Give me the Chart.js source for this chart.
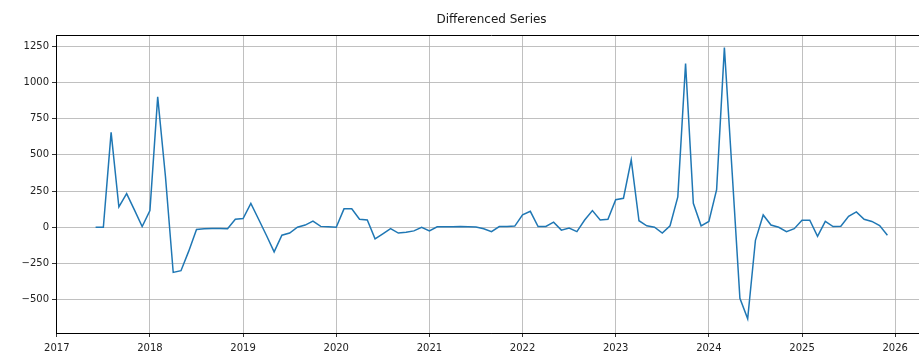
<!DOCTYPE html>
<html>
<head>
<meta charset="utf-8">
<script src="https://cdn.jsdelivr.net/npm/chart.js@4/dist/chart.umd.min.js"></script>
<style>
  html, body { margin: 0; padding: 0; background: #ffffff; overflow: hidden; }
  #wrap { position: relative; width: 935px; height: 358px; }
</style>
</head>
<body>
<div id="wrap"><canvas id="chart" width="935" height="358"></canvas></div>
<script>
// Month-over-month differences of the series
const monthLabels = [
  '2017-06','2017-07','2017-08','2017-09','2017-10','2017-11','2017-12',
  '2018-01','2018-02','2018-03','2018-04','2018-05','2018-06','2018-07','2018-08','2018-09','2018-10','2018-11','2018-12',
  '2019-01','2019-02','2019-03','2019-04','2019-05','2019-06','2019-07','2019-08','2019-09','2019-10','2019-11','2019-12',
  '2020-01','2020-02','2020-03','2020-04','2020-05','2020-06','2020-07','2020-08','2020-09','2020-10','2020-11','2020-12',
  '2021-01','2021-02','2021-03','2021-04','2021-05','2021-06','2021-07','2021-08','2021-09','2021-10','2021-11','2021-12',
  '2022-01','2022-02','2022-03','2022-04','2022-05','2022-06','2022-07','2022-08','2022-09','2022-10','2022-11','2022-12',
  '2023-01','2023-02','2023-03','2023-04','2023-05','2023-06','2023-07','2023-08','2023-09','2023-10','2023-11','2023-12',
  '2024-01','2024-02','2024-03','2024-04','2024-05','2024-06','2024-07','2024-08','2024-09','2024-10','2024-11','2024-12',
  '2025-01','2025-02','2025-03','2025-04','2025-05','2025-06','2025-07','2025-08','2025-09','2025-10','2025-11','2025-12'
];

const diffValues = [
  0, 0, 655, 140, 232, 120, 5,
  115, 900, 350, -312, -300, -165, -15, -10, -8, -8, -10, 55,
  60, 165, 55, -55, -170, -55, -40, 0, 15, 42, 6, 3,
  0, 127, 127, 55, 50, -80, -45, -10, -40, -35, -25, 0,
  -25, 3, 3, 4, 5, 3, 2, -10, -30, 5, 5, 8,
  85, 110, 5, 5, 35, -20, -5, -30, 50, 115, 50, 55,
  190, 200, 465, 45, 10, 0, -40, 10, 210, 1130, 165, 10,
  40, 260, 1240, 380, -490, -632, -90, 85, 15, 0, -30, -10,
  48, 48, -62, 40, 5, 7, 75, 106, 55, 40, 12, -55
];

const xTicks = [2017, 2018, 2019, 2020, 2021, 2022, 2023, 2024, 2025, 2026];
const yTicks = [-500, -250, 0, 250, 500, 750, 1000, 1250];

const chartTitle = 'Differenced Series';

// month string -> decimal year position on the linear time axis
function toYear(label) {
  const [y, m] = label.split('-').map(Number);
  return y + (m - 1) / 12;
}

const points = monthLabels.map((lab, i) => ({ x: toYear(lab), y: diffValues[i] }));

const fontFamily = "'DejaVu Sans', 'Liberation Sans', sans-serif";

// frame around the plot (top/right spines) and the centred axes title
const framePlugin = {
  id: 'frame',
  afterDraw(chart) {
    const { ctx, chartArea: a } = chart;
    ctx.save();
    ctx.strokeStyle = '#000000';
    ctx.lineWidth = 1;
    ctx.beginPath();
    ctx.moveTo(a.left, a.top + 0.5);
    ctx.lineTo(a.right, a.top + 0.5);
    ctx.moveTo(a.right - 0.5, a.top);
    ctx.lineTo(a.right - 0.5, a.bottom);
    ctx.stroke();
    ctx.fillStyle = '#1a1a1a';
    ctx.font = '12px ' + fontFamily;
    ctx.textAlign = 'center';
    ctx.textBaseline = 'middle';
    ctx.fillText(chartTitle, (a.left + a.right) / 2, 20);
    ctx.restore();
  }
};

const bgPlugin = {
  id: 'bg',
  beforeDraw(chart) {
    const { ctx } = chart;
    ctx.save();
    ctx.fillStyle = '#ffffff';
    ctx.fillRect(0, 0, chart.width, chart.height);
    ctx.restore();
  }
};

new Chart(document.getElementById('chart'), {
  type: 'line',
  data: {
    datasets: [{
      data: points,
      borderColor: '#1f77b4',
      borderWidth: 1.5,
      pointRadius: 0,
      tension: 0,
      fill: false
    }]
  },
  options: {
    responsive: false,
    animation: false,
    layout: { padding: { left: 0, top: 35, right: 8, bottom: 0 } },
    plugins: {
      legend: { display: false },
      tooltip: { enabled: false },
      title: { display: false }
    },
    scales: {
      x: {
        type: 'linear',
        min: 2016.9917,
        max: 2026.3417,
        afterFit(scale) { scale.height = 25; },
        afterBuildTicks(scale) { scale.ticks = xTicks.map(v => ({ value: v })); },
        grid: { color: '#b0b0b0', lineWidth: 0.8, tickColor: '#000000', tickLength: 4 },
        border: { color: '#000000', width: 1 },
        ticks: {
          color: '#222222',
          font: { family: fontFamily, size: 10 },
          padding: 5,
          maxRotation: 0,
          autoSkip: false,
          callback: v => String(v)
        }
      },
      y: {
        type: 'linear',
        min: -730,
        max: 1327,
        afterFit(scale) { scale.width = 56; },
        afterBuildTicks(scale) { scale.ticks = yTicks.map(v => ({ value: v })); },
        grid: { color: '#b0b0b0', lineWidth: 0.8, tickColor: '#000000', tickLength: 4 },
        border: { color: '#000000', width: 1 },
        ticks: {
          color: '#222222',
          font: { family: fontFamily, size: 10 },
          padding: 3,
          autoSkip: false,
          callback: v => (v < 0 ? '\u2212' + Math.abs(v) : String(v))
        }
      }
    }
  },
  plugins: [bgPlugin, framePlugin]
});
</script>
</body>
</html>
